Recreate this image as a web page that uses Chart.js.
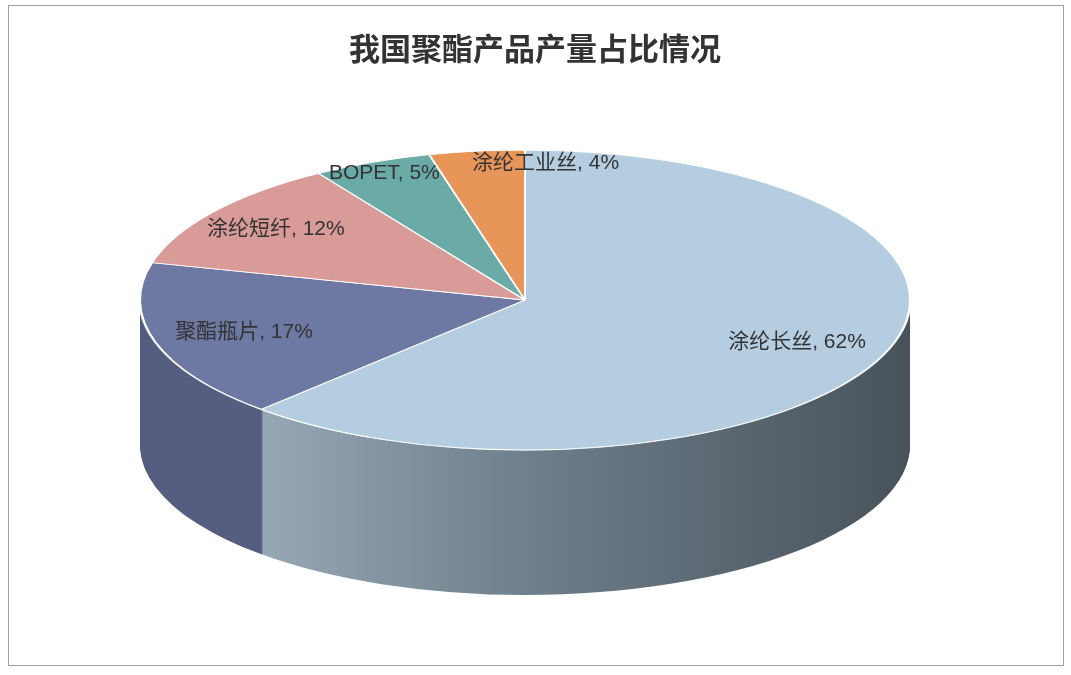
<!DOCTYPE html>
<html><head><meta charset="utf-8">
<script src="https://cdn.jsdelivr.net/npm/chart.js@4.4.0/dist/chart.umd.min.js"></script>
<style>
body{margin:0;background:#fff;}
#frame{position:absolute;left:8px;top:5px;width:1054px;height:659px;border:1.5px solid #a0a0a0;}
#c{position:absolute;left:0;top:0;}
</style></head><body>
<div id="frame"></div>
<canvas id="c" width="1071" height="675"></canvas>
<script>
const title = "我国聚酯产品产量占比情况"
const categories = ["涂纶长丝", "聚酯瓶片", "涂纶短纤", "BOPET", "涂纶工业丝"]
const shares = [62, 17, 12, 5, 4]
const topColors = ["#b5cde0", "#6d78a3", "#d89b97", "#6aaba8", "#e8955a"]
const wallColors = ["#6f7f8c", "#565e80", "#a67471", "#4f8583", "#b36f40"]

const cx = 525, cy = 300, rx = 385, ry = 150, depth = 145

function mapTo(ctx, arc) {
  const r = arc.outerRadius
  ctx.translate(cx, cy)
  ctx.scale(rx / r, ry / r)
  ctx.translate(-arc.x, -arc.y)
}

const pie3d = {
  id: "pie3d",
  beforeDatasetsDraw(chart) {
    const ctx = chart.ctx
    const arcs = chart.getDatasetMeta(0).data
    const r = arcs[0].outerRadius
    ctx.save()
    mapTo(ctx, arcs[0])
    const step = r / ry
    for (let k = depth; k > 0; k -= 1) {
      arcs.forEach((a, i) => {
        let fill = wallColors[i]
        if (i === 0) {
          const g = ctx.createLinearGradient(a.x - r, 0, a.x + r, 0)
          g.addColorStop(0, "#a9bac8")
          g.addColorStop(0.5, "#6f7f8c")
          g.addColorStop(1, "#48525a")
          fill = g
        }
        ctx.beginPath()
        ctx.moveTo(a.x, a.y + k * step)
        ctx.arc(a.x, a.y + k * step, r, a.startAngle, a.endAngle)
        ctx.closePath()
        ctx.fillStyle = fill
        ctx.fill()
      })
    }
    ctx.beginPath()
    ctx.arc(arcs[0].x, arcs[0].y, r, 0, Math.PI)
    ctx.strokeStyle = "rgba(255,255,255,0.8)"
    ctx.lineWidth = 1.2 * step
    ctx.stroke()
  },
  afterDatasetsDraw(chart) {
    const ctx = chart.ctx
    ctx.restore()
    const arcs = chart.getDatasetMeta(0).data
    ctx.save()
    ctx.font = '21px "Liberation Sans", "Noto Sans CJK SC", sans-serif'
    ctx.fillStyle = "#333"
    ctx.textAlign = "center"
    ctx.textBaseline = "middle"
    arcs.forEach((a, i) => {
      const mid = (a.startAngle + a.endAngle) / 2
      const f = shares[i] < 6 ? 0.92 : (shares[i] < 15 ? 0.8 : 0.76)
      let x = cx + rx * f * Math.cos(mid)
      let y = cy + ry * f * Math.sin(mid)
      if (i === 4) x += 65
      ctx.fillText(categories[i] + ", " + shares[i] + "%", x, y)
    })
    ctx.font = 'bold 31px "Noto Sans CJK SC", sans-serif'
    ctx.fillText(title, 535, 48)
    ctx.restore()
  }
}

new Chart(document.getElementById("c"), {
  type: "pie",
  data: {
    labels: categories,
    datasets: [{
      data: shares,
      backgroundColor: topColors,
      borderColor: "#ffffff",
      borderWidth: 1.5
    }]
  },
  options: {
    responsive: false,
    animation: false,
    devicePixelRatio: 1,
    layout: { padding: { top: 90, bottom: 20 } },
    plugins: {
      legend: { display: false },
      tooltip: { enabled: false },
      title: { display: false }
    }
  },
  plugins: [pie3d]
})
</script>
</body></html>
